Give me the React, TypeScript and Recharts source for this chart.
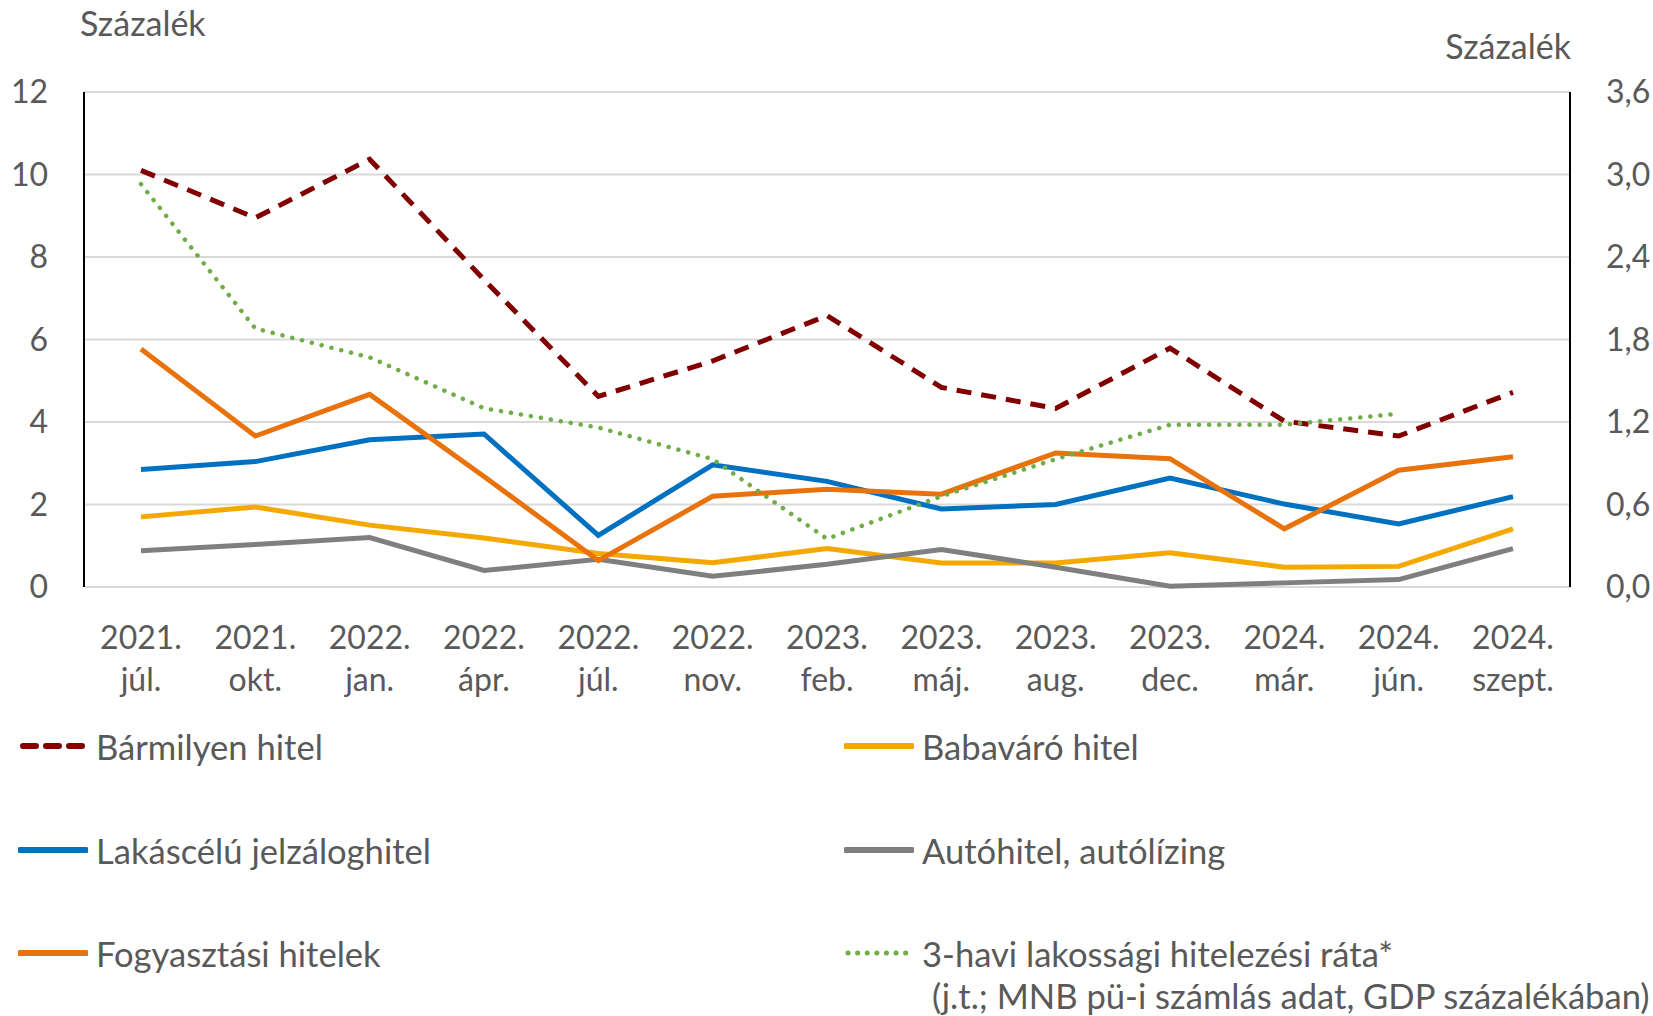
import React from 'react';
import { LineChart, Line, XAxis, YAxis, CartesianGrid } from 'recharts';

const years = ['2021.', '2021.', '2022.', '2022.', '2022.', '2022.', '2023.', '2023.', '2023.', '2023.', '2024.', '2024.', '2024.'];
const months = ['júl.', 'okt.', 'jan.', 'ápr.', 'júl.', 'nov.', 'feb.', 'máj.', 'aug.', 'dec.', 'már.', 'jún.', 'szept.'];

// bal tengely, százalék
const anyLoan = [10.1, 8.95, 10.37, 7.45, 4.62, 5.48, 6.58, 4.84, 4.33, 5.79, 4.02, 3.66, 4.72];
const babyLoan = [1.7, 1.94, 1.5, 1.19, 0.81, 0.59, 0.93, 0.58, 0.58, 0.83, 0.48, 0.5, 1.41];
const mortgage = [2.85, 3.04, 3.57, 3.71, 1.25, 2.96, 2.56, 1.89, 2.0, 2.64, 2.01, 1.53, 2.19];
const carLoan = [0.88, 1.03, 1.2, 0.4, 0.67, 0.26, 0.55, 0.91, 0.48, 0.02, 0.1, 0.18, 0.93];
const consumer = [5.77, 3.66, 4.67, 2.68, 0.64, 2.2, 2.37, 2.25, 3.25, 3.11, 1.41, 2.83, 3.16];
// jobb tengely, GDP százalékában
const lendingRate = [2.93, 1.88, 1.67, 1.3, 1.16, 0.93, 0.35, 0.66, 0.93, 1.18, 1.18, 1.26, null];

const leftTicks = [0, 2, 4, 6, 8, 10, 12];
const rightTicks = [0, 0.6, 1.2, 1.8, 2.4, 3.0, 3.6];

const data = years.map((y, i) => ({
  period: y + ' ' + months[i],
  anyLoan: anyLoan[i],
  babyLoan: babyLoan[i],
  mortgage: mortgage[i],
  carLoan: carLoan[i],
  consumer: consumer[i],
  lendingRate: lendingRate[i],
}));

const FONT = 'Lato, sans-serif';
const TEXT = '#595959';
const FS = 32; // tengelyfeliratok
const LFS = 34.6; // jelmagyarázat, címek

const series = [
  { key: 'anyLoan', name: 'Bármilyen hitel', color: '#800000', dash: '15 10', axis: 'left' },
  { key: 'babyLoan', name: 'Babaváró hitel', color: '#F5A800', axis: 'left' },
  { key: 'mortgage', name: 'Lakáscélú jelzáloghitel', color: '#0070C0', axis: 'left' },
  { key: 'carLoan', name: 'Autóhitel, autólízing', color: '#7F7F7F', axis: 'left' },
  { key: 'consumer', name: 'Fogyasztási hitelek', color: '#E8720C', axis: 'left' },
  { key: 'lendingRate', name: '3-havi lakossági hitelezési ráta*', color: '#70AD47', dot: true, axis: 'right' },
];

function XTick(props: any) {
  const { x, y, index } = props;
  return (
    <text x={x} y={y} textAnchor="middle" fill={TEXT} fontSize={FS} fontFamily={FONT}>
      <tspan x={x} dy={62}>{years[index]}</tspan>
      <tspan x={x} dy={42}>{months[index]}</tspan>
    </text>
  );
}

function LegendSwatch({ s }: { s: any }) {
  return (
    <svg width={70} height={12} style={{ display: 'block' }}>
      {s.dot ? (
        <line x1={4} y1={6} x2={64} y2={6} stroke={s.color} strokeWidth={5} strokeDasharray="0.1 9.5" strokeLinecap="round" />
      ) : s.dash ? (
        <line x1={5} y1={6} x2={64} y2={6} stroke={s.color} strokeWidth={6} strokeDasharray="13 10" strokeLinecap="round" />
      ) : (
        <line x1={2} y1={6} x2={68} y2={6} stroke={s.color} strokeWidth={6} strokeLinecap="round" />
      )}
    </svg>
  );
}

export default function App() {
  const rows = [746, 850, 953];
  return (
    <div style={{ position: 'absolute', left: 0, top: 0, width: 1653, height: 1016, background: '#fff', fontFamily: FONT, color: TEXT, overflow: 'hidden' }}>
      <div style={{ position: 'absolute', left: 80, top: 2, fontSize: 34, lineHeight: '41px' }}>Százalék</div>
      <div style={{ position: 'absolute', right: 82, top: 25, fontSize: 34, lineHeight: '41px' }}>Százalék</div>
      <LineChart width={1653} height={1016} data={data} margin={{ top: 92, right: 0, left: 0, bottom: 329 }}>
        <CartesianGrid yAxisId="left" vertical={false} stroke="#D9D9D9" strokeWidth={2} />
        <XAxis
          dataKey="period"
          height={100}
          padding={{ left: 57, right: 57 }}
          axisLine={false}
          tickLine={false}
          tickSize={0}
          tickMargin={0}
          interval={0}
          tick={<XTick />}
        />
        <YAxis
          yAxisId="left"
          orientation="left"
          width={84}
          domain={[0, 12]}
          ticks={leftTicks}
          interval={0}
          axisLine={{ stroke: '#000', strokeWidth: 2 }}
          tickLine={false}
          tickSize={0}
          tickMargin={36}
          tick={{ fill: TEXT, fontSize: FS, fontFamily: FONT }}
        />
        <YAxis
          yAxisId="right"
          orientation="right"
          width={83}
          domain={[0, 3.6]}
          ticks={rightTicks}
          interval={0}
          axisLine={{ stroke: '#000', strokeWidth: 2 }}
          tickLine={false}
          tickSize={0}
          tickMargin={36}
          tickFormatter={(v: number) => v.toFixed(1).replace('.', ',')}
          tick={{ fill: TEXT, fontSize: FS, fontFamily: FONT, textAnchor: 'start' }}
        />
        {series.map((s) => (
          <Line
            key={s.key}
            yAxisId={s.axis}
            type="linear"
            dataKey={s.key}
            name={s.name}
            stroke={s.color}
            strokeWidth={s.dot ? 4.5 : 5}
            strokeDasharray={s.dot ? '0.1 10' : s.dash}
            strokeLinecap={s.dot ? 'round' : 'butt'}
            dot={false}
            activeDot={false}
            connectNulls={false}
            isAnimationActive={false}
          />
        ))}
      </LineChart>
      {series.map((s, i) => {
        const col = i % 2;
        const row = Math.floor(i / 2);
        const left = col === 0 ? 18 : 844;
        return (
          <div key={s.key} style={{ position: 'absolute', left, top: rows[row] - 21, height: 42, display: 'flex', alignItems: 'center', fontSize: LFS }}>
            <LegendSwatch s={s} />
            <span style={{ marginLeft: 8, whiteSpace: 'nowrap' }}>{s.name}</span>
          </div>
        );
      })}
      <div style={{ position: 'absolute', left: 932, top: rows[2] + 22, fontSize: LFS, lineHeight: '41px', whiteSpace: 'nowrap' }}>
        (j.t.; MNB pü-i számlás adat, GDP százalékában)
      </div>
    </div>
  );
}
